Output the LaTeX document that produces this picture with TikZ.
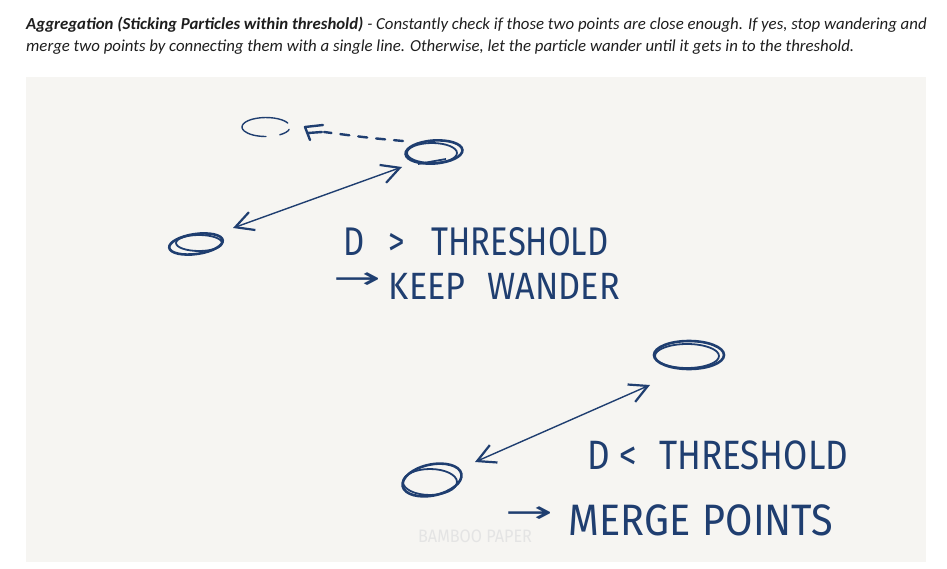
\documentclass[tikz,border=0pt]{standalone}
\usepackage{fontspec}
\setmainfont{Carlito}
\newfontfamily\hand[FakeStretch=0.9]{Fira Sans}
\newfontfamily\handA[FakeStretch=0.82]{Fira Sans}
\newfontfamily\handC[FakeStretch=0.855]{Fira Sans}
\newfontfamily\arrfont{DejaVu Sans}
\usetikzlibrary{arrows.meta,shapes.geometric}
\definecolor{ink}{RGB}{31,62,112}
\definecolor{paper}{RGB}{246,245,242}
\definecolor{hdr}{RGB}{30,30,30}
\definecolor{wm}{RGB}{228,228,228}
\newcommand{\harrow}[1]{\raisebox{#1}{\scalebox{1.9}[1]{\arrfont\fontsize{30}{30}\selectfont →}}}
\tikzset{
  hdrtext/.style={anchor=base west, inner sep=0pt, text=hdr, font=\fontsize{16.8}{22}\selectfont\itshape},
  handtext/.style={anchor=base west, inner sep=0pt, text=ink, font=\hand\fontsize{40}{42}\selectfont},
  blob/.style={ellipse, draw=ink, line width=2.6pt, inner sep=0pt},
  loop/.style={draw=ink, line width=1.8pt},
  sketcharrow/.style={draw=ink, line width=1.4pt, {Straight Barb[length=18pt,width=19pt,line width=2.2pt]}-{Straight Barb[length=18pt,width=19pt,line width=2.2pt]}},
  faint/.style={draw=ink, line width=1.4pt, line cap=round},
}
\begin{document}
\begin{tikzpicture}[x=1pt,y=-1pt]
\useasboundingbox (0,0) rectangle (947,569);
\fill[white] (0,0) rectangle (947,569);
\fill[paper] (26,77) rectangle (926,562);

% header
\node[hdrtext] (h1) at (26,30) {\textbf{Aggregation (Sticking Particles within threshold)} - Constantly check if those two points are close enough. If yes, stop wandering and};
\node[hdrtext] (h2) at (26,52) {merge two points by connecting them with a single line. Otherwise, let the particle wander until it gets in to the threshold.};

% ---- upper pair ----
\node[blob, minimum width=57pt, minimum height=23pt, rotate=4] (ua) at (434,152) {};
\draw[loop] (432,153) ellipse [x radius=25, y radius=10];
\draw[loop] (418,164) -- (446,159);
\node[blob, minimum width=54pt, minimum height=20pt, rotate=8] (ub) at (196,244) {};
\draw[loop] (199,243) ellipse [x radius=23, y radius=8];

% ghost position
\draw[faint] (287.75,123) arc[start angle=-25, end angle=-270, x radius=24, y radius=9.5];
\draw[faint] (279.8,134.8) arc[start angle=55, end angle=15, x radius=24, y radius=9.5];
\coordinate (gh) at (305,127);
\draw[ink, line width=2.4pt, line cap=round, dash pattern=on 9pt off 9pt] (403,141) .. controls (370,138) .. (324,132);
\draw[ink, line width=2.4pt, line cap=round, line join=round] (323,125) -- (gh) -- (310,140) (308,133) -- (322,132);

\coordinate (ut1) at (233,228);
\coordinate (ut2) at (402,167);
\draw[sketcharrow] (ut1) -- (ut2);

\node[handtext, font=\handA\fontsize{40}{42}\selectfont] (t1) at (343,255) {D\hspace{24pt}>\hspace{27pt}THRESHOLD};
\node[handtext, font=\hand\fontsize{38}{40}\selectfont] (t2) at (333,299) {\harrow{11pt}\hspace{8pt}KEEP\hspace{22pt}WANDER};

% ---- lower pair ----
\node[blob, minimum width=70pt, minimum height=28pt] (la) at (689,355) {};
\draw[loop] (687,356) ellipse [x radius=32, y radius=12];
\node[blob, minimum width=60pt, minimum height=31pt, rotate=12] (lb) at (432,480) {};
\draw[loop] (430,482) ellipse [x radius=27, y radius=13];

\coordinate (lt1) at (475,462);
\coordinate (lt2) at (650,385);
\draw[sketcharrow] (lt1) -- (lt2);

\node[handtext, font=\handC\fontsize{41}{42}\selectfont] (t3) at (587,469) {D\hspace{10pt}<\hspace{22pt}THRESHOLD};
\node[handtext, font=\hand\fontsize{44}{46}\selectfont] (t4) at (505,535) {\harrow{13pt}\hspace{16pt}MERGE\hspace{12pt}POINTS};

\node[anchor=base west, inner sep=0pt, text=wm, font=\hand\fontsize{18}{20}\selectfont] (wm) at (418,542) {BAMBOO PAPER};
\end{tikzpicture}
\end{document}
